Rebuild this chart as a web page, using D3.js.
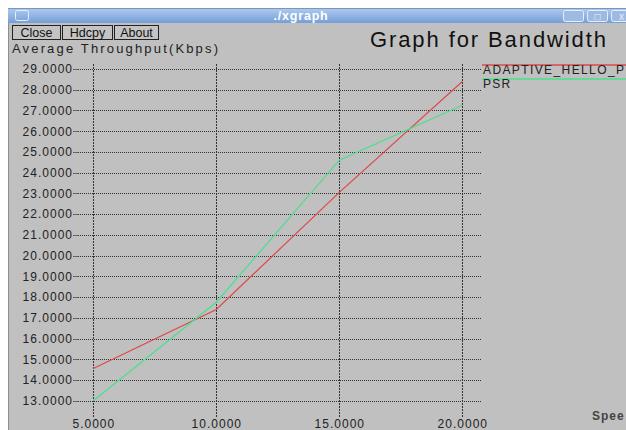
<!DOCTYPE html>
<html>
<head>
<meta charset="utf-8">
<script src="https://cdn.jsdelivr.net/npm/d3@7"></script>
<style>
  html, body { margin: 0; padding: 0; background: #ffffff; }
  svg { display: block; font-family: "Liberation Sans", Arial, sans-serif; }
</style>
</head>
<body>
<svg id="chart" width="626" height="430"></svg>
<script>
// Average throughput against speed for two routing schemes
const speeds = [5, 10, 15, 20];
const adaptiveHello = [14.55, 17.4, 23.05, 28.4];
const psr = [13.0, 17.75, 24.6, 27.25];
const seriesNames = ["ADAPTIVE_HELLO_P", "PSR"];
const seriesColors = ["#e04848", "#48e08c"];
const xTicks = [5, 10, 15, 20];
const yTicks = d3.range(13, 30, 1);

const svg = d3.select("#chart");

// window frame
svg.append("rect").attr("x", 8).attr("y", 8).attr("width", 618).attr("height", 422).attr("fill", "#c0c0c0");
svg.append("line").attr("x1", 8.5).attr("x2", 8.5).attr("y1", 8).attr("y2", 430).attr("stroke", "#8e8e8e");

const grad = svg.append("defs").append("linearGradient").attr("id", "tb").attr("x1", 0).attr("x2", 0).attr("y1", 0).attr("y2", 1);
grad.append("stop").attr("offset", "0%").attr("stop-color", "#b0cbee");
grad.append("stop").attr("offset", "100%").attr("stop-color", "#759fd8");
svg.append("rect").attr("x", 8).attr("y", 8).attr("width", 618).attr("height", 15).attr("fill", "url(#tb)");
svg.append("line").attr("x1", 8).attr("x2", 626).attr("y1", 8.5).attr("y2", 8.5).attr("stroke", "#7a96be");
svg.append("rect").attr("x", 15.5).attr("y", 10.5).attr("width", 13).attr("height", 10).attr("rx", 2)
  .attr("fill", "none").attr("stroke", "#e6eefa");
svg.append("text").attr("x", 301).attr("y", 20).attr("text-anchor", "middle")
  .attr("font-size", 12.5).attr("font-weight", "bold").attr("fill", "#ffffff").attr("letter-spacing", 0.8)
  .text("./xgraph");

const winBtns = ["_", "□", "x"];
svg.selectAll("g.wb").data(winBtns).join("g").attr("class", "wb")
  .attr("transform", (d, i) => `translate(${563.5 + i * 24},10.5)`)
  .each(function (d) {
    const g = d3.select(this);
    g.append("rect").attr("width", 20).attr("height", 11).attr("rx", 2)
      .attr("fill", "#9dbbe2").attr("stroke", "#e6eefa");
    g.append("text").attr("x", 10).attr("y", 9).attr("text-anchor", "middle")
      .attr("font-size", 10).attr("fill", "#e6eefa").text(d);
  });

// toolbar buttons
const buttons = [["Close", 12, 48], ["Hdcpy", 62, 50], ["About", 114, 44]];
buttons.forEach(([label, bx, bw]) => {
  svg.append("rect").attr("x", bx + 0.5).attr("y", 25.5).attr("width", bw).attr("height", 14)
    .attr("fill", "#c4c4c4").attr("stroke", "#222");
  svg.append("text").attr("x", bx + bw / 2 + 0.5).attr("y", 37).attr("text-anchor", "middle")
    .attr("font-size", 12.5).attr("fill", "#111").text(label);
});

svg.append("text").attr("x", 370).attr("y", 47).attr("font-size", 22).attr("fill", "#111")
  .attr("textLength", 236).attr("lengthAdjust", "spacing").text("Graph for Bandwidth");
svg.append("text").attr("x", 12).attr("y", 53).attr("font-size", 13).attr("fill", "#222")
  .attr("textLength", 206).attr("lengthAdjust", "spacing").text("Average Throughput(Kbps)");

// scales
const x = d3.scaleLinear().domain([5, 20]).range([93.3, 462.3]);
const y = d3.scaleLinear().domain([13, 29]).range([400.7, 69]);
const fmt = d3.format(".4f");

// horizontal grid lines with labels
const yAxis = d3.axisLeft(y).tickValues(yTicks).tickFormat(fmt).tickSize(-(482 - 78)).tickPadding(5);
const gy = svg.append("g").attr("transform", "translate(78,0)").call(yAxis);
gy.select(".domain").remove();
gy.selectAll(".tick line").attr("stroke", "#333").attr("stroke-dasharray", "1,1").attr("shape-rendering", "crispEdges");
gy.selectAll(".tick").append("line").attr("x1", -5).attr("x2", 0)
  .attr("stroke", "#666").attr("shape-rendering", "crispEdges");
gy.selectAll(".tick text").attr("font-size", 12).attr("fill", "#222").attr("letter-spacing", 1)
  .attr("font-family", "Liberation Sans, Arial, sans-serif");

// vertical grid lines with labels
const xAxis = d3.axisBottom(x).tickValues(xTicks).tickFormat(fmt).tickSize(417 - 64).tickPadding(0);
const gx = svg.append("g").attr("transform", "translate(0,64)").call(xAxis);
gx.select(".domain").remove();
gx.selectAll(".tick line").attr("stroke", "#333").attr("stroke-dasharray", "2,1").attr("shape-rendering", "crispEdges");
gx.selectAll(".tick text").attr("font-size", 12).attr("fill", "#222").attr("letter-spacing", 1)
  .attr("dy", 0).attr("y", 364).attr("font-family", "Liberation Sans, Arial, sans-serif");

// series lines
const line = d3.line().x((d, i) => x(speeds[i])).y(d => y(d));
[adaptiveHello, psr].forEach((vals, k) => {
  svg.append("path").datum(vals).attr("d", line).attr("fill", "none")
    .attr("stroke", seriesColors[k]).attr("stroke-width", 1.2);
});

// legend
seriesNames.forEach((name, k) => {
  const ly = 65 + k * 14;
  svg.append("line").attr("x1", 482).attr("x2", 626).attr("y1", ly).attr("y2", ly)
    .attr("stroke", seriesColors[k]).attr("stroke-width", 1.5);
  const t = svg.append("text").attr("x", 483).attr("y", ly + 9).attr("font-size", 12).attr("fill", "#222")
    .text(name);
  if (k === 0) t.attr("textLength", 141).attr("lengthAdjust", "spacing");
  else t.attr("letter-spacing", 1.2);
});

svg.append("text").attr("x", 592).attr("y", 420).attr("font-size", 12).attr("font-weight", "bold")
  .attr("fill", "#444").attr("letter-spacing", 1).text("Spee");
</script>
</body>
</html>
